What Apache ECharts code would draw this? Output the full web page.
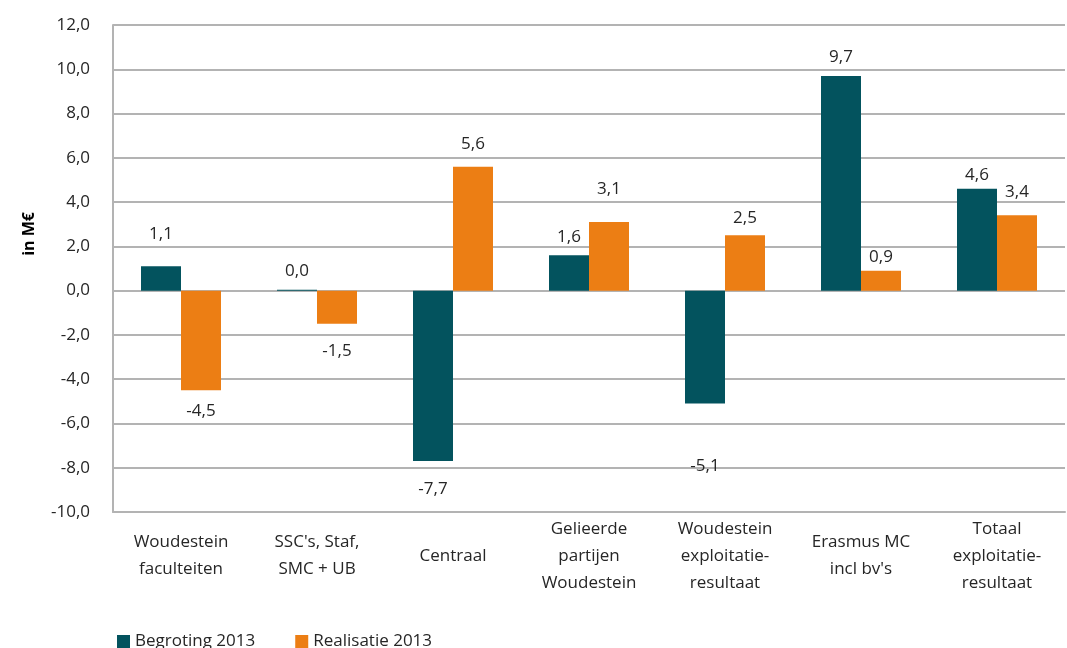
<!DOCTYPE html>
<html>
<head>
<meta charset="utf-8">
<script src="https://cdn.jsdelivr.net/npm/echarts@6/dist/echarts.min.js"></script>
<style>
  html, body { margin: 0; padding: 0; background: #fff; }
  #chart { width: 1067px; height: 648px; }
</style>
</head>
<body>
<div id="chart"></div>
<script>
var categories = [
    'Woudestein\nfaculteiten',
    "SSC's, Staf,\nSMC + UB",
    'Centraal',
    'Gelieerde\npartijen\nWoudestein',
    'Woudestein\nexploitatie-\nresultaat',
    "Erasmus MC\nincl bv's",
    'Totaal\nexploitatie-\nresultaat'
];
var begroting = [1.1, 0.04, -7.7, 1.6, -5.1, 9.7, 4.6];
var realisatie = [-4.5, -1.5, 5.6, 3.1, 2.5, 0.9, 3.4];

// label distance from bar end (pixels), as placed in the original
var gapBegroting = [24, 10, 20, 10, 54, 10, 5];
var gapRealisatie = [12, 19, 14, 24, 9, 5, 15];

var font = '"Open Sans", "Noto Sans", sans-serif';
var textColor = '#262626';
var fs = 17;

function fmt(v) {
    return v.toFixed(1).replace('.', ',');
}

function buildData(values, gaps) {
    return values.map(function (v, i) {
        return {
            value: v,
            label: {
                position: v >= 0 ? 'top' : 'bottom',
                distance: gaps[i]
            }
        };
    });
}

var chart = echarts.init(document.getElementById('chart'));

var option = {
    backgroundColor: '#fff',
    animation: false,
    textStyle: { fontFamily: font },
    grid: {
        left: 113,
        right: 2,
        top: 25,
        bottom: 136
    },
    graphic: [{
        type: 'text',
        left: 21,
        top: 212,
        rotation: Math.PI / 2,
        style: {
            text: 'in M€',
            font: 'bold 16px ' + font,
            fill: '#000'
        }
    }],
    legend: {
        top: 628,
        left: 112,
        itemWidth: 13,
        itemHeight: 13,
        itemGap: 40,
        icon: 'rect',
        textStyle: { fontSize: fs, color: textColor, fontFamily: font },
        data: ['Begroting 2013', 'Realisatie 2013']
    },
    xAxis: {
        type: 'category',
        data: categories,
        axisLine: { onZero: false, lineStyle: { color: '#b3b3b3', width: 2 } },
        axisTick: { show: false },
        axisLabel: {
            interval: 0,
            fontSize: fs,
            lineHeight: 27,
            color: textColor,
            fontFamily: font,
            verticalAlign: 'middle',
            margin: 44
        }
    },
    yAxis: {
        type: 'value',
        min: -10,
        max: 12,
        interval: 2,
        axisLine: { show: true, lineStyle: { color: '#b3b3b3', width: 2 } },
        axisTick: { show: false },
        splitLine: { lineStyle: { color: '#b3b3b3', width: 2 } },
        axisLabel: {
            fontSize: fs,
            color: textColor,
            fontFamily: font,
            margin: 23,
            formatter: function (v) { return fmt(v); }
        }
    },
    series: [
        {
            name: 'Begroting 2013',
            type: 'bar',
            barWidth: 40,
            barGap: '0%',
            itemStyle: { color: '#03535e' },
            label: {
                show: true,
                fontSize: fs,
                color: textColor,
                fontFamily: font,
                formatter: function (p) { return fmt(p.value); }
            },
            data: buildData(begroting, gapBegroting)
        },
        {
            name: 'Realisatie 2013',
            type: 'bar',
            barWidth: 40,
            barGap: '0%',
            itemStyle: { color: '#ec7e14' },
            label: {
                show: true,
                fontSize: fs,
                color: textColor,
                fontFamily: font,
                formatter: function (p) { return fmt(p.value); }
            },
            data: buildData(realisatie, gapRealisatie)
        }
    ]
};

chart.setOption(option);
</script>
</body>
</html>
